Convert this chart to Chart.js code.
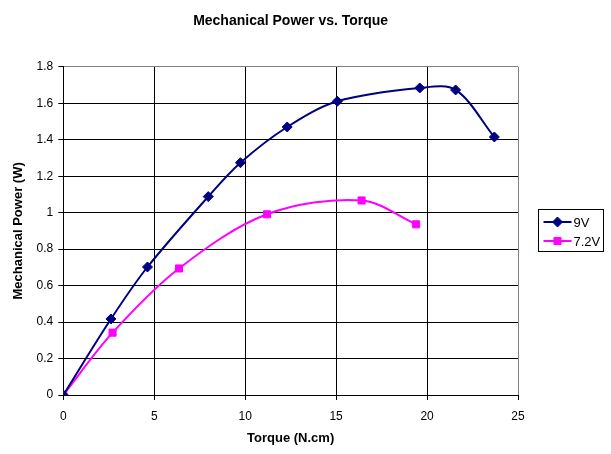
<!DOCTYPE html>
<html>
<head>
<meta charset="utf-8">
<script src="https://cdn.jsdelivr.net/npm/chart.js@4.4.1/dist/chart.umd.min.js"></script>
<style>
  html, body { margin: 0; padding: 0; background: #fff; }
  #wrap { width: 611px; height: 454px; }
</style>
</head>
<body>
<div id="wrap"><canvas id="c" width="611" height="454"></canvas></div>
<script>
const chartTitle = 'Mechanical Power vs. Torque';
const xTitle = 'Torque (N.cm)';
const yTitle = 'Mechanical Power (W)';
const seriesNames = ['9V', '7.2V'];

const torque9V = [0, 2.62, 4.63, 7.97, 9.74, 12.31, 15.07, 19.6, 21.57, 23.7];
const power9V  = [0, 0.417, 0.702, 1.088, 1.274, 1.470, 1.611, 1.684, 1.673, 1.415];
const torque72V = [0, 2.71, 6.36, 11.2, 16.4, 19.4];
const power72V  = [0, 0.342, 0.694, 0.991, 1.067, 0.936];

const xTicks = [0, 5, 10, 15, 20, 25];
const yTicks = ['0', '0.2', '0.4', '0.6', '0.8', '1', '1.2', '1.4', '1.6', '1.8'];

const FONT = '"Liberation Sans", Arial, sans-serif';
Chart.defaults.font.family = FONT;
Chart.defaults.color = '#000';

const toPts = (xs, ys) => xs.map((x, i) => ({ x: x, y: ys[i] }));

const legendPlugin = {
  id: 'boxLegend',
  afterDraw(chart) {
    const ctx = chart.ctx;
    const area = chart.chartArea;
    const left = Math.round(area.right) + 20.5;
    const top = 209.5;
    const w = 65, h = 42;
    ctx.save();
    ctx.strokeStyle = '#000';
    ctx.lineWidth = 1;
    ctx.strokeRect(left, top, w, h);
    ctx.font = '13px ' + FONT;
    ctx.textBaseline = 'middle';
    chart.data.datasets.forEach((ds, i) => {
      const y = top + 12.5 + i * 19;
      ctx.strokeStyle = ds.borderColor;
      ctx.lineWidth = 2;
      ctx.beginPath();
      ctx.moveTo(left + 5, y);
      ctx.lineTo(left + 33, y);
      ctx.stroke();
      ctx.fillStyle = ds.pointBackgroundColor;
      ctx.strokeStyle = ds.pointBorderColor;
      ctx.lineWidth = 1;
      Chart.helpers.drawPoint(ctx, { pointStyle: ds.pointStyle, radius: ds.pointRadius, borderWidth: 1 }, left + 19, y);
      ctx.fillStyle = '#000';
      ctx.textAlign = 'left';
      ctx.fillText(ds.label, left + 35, y + 1);
    });
    ctx.restore();
  }
};

new Chart(document.getElementById('c'), {
  type: 'line',
  data: {
    datasets: [
      {
        label: seriesNames[0],
        data: toPts(torque9V, power9V),
        borderColor: '#000080',
        backgroundColor: '#000080',
        pointBackgroundColor: '#000080',
        pointBorderColor: '#000080',
        pointStyle: 'rectRot',
        pointRadius: 5,
        pointBorderWidth: 1,
        borderWidth: 2,
        tension: 0.33,
        fill: false
      },
      {
        label: seriesNames[1],
        data: toPts(torque72V, power72V),
        borderColor: '#FF00FF',
        backgroundColor: '#FF00FF',
        pointBackgroundColor: '#FF00FF',
        pointBorderColor: '#FF00FF',
        pointStyle: 'rect',
        pointRadius: 5,
        pointBorderWidth: 1,
        borderWidth: 2,
        tension: 0.33,
        fill: false
      }
    ]
  },
  options: {
    responsive: false,
    animation: false,
    events: [],
    layout: { padding: { left: 11, right: 93, top: 0, bottom: 8 } },
    plugins: {
      legend: { display: false },
      tooltip: { enabled: false },
      title: {
        display: true,
        fullSize: false,
        text: chartTitle,
        color: '#000',
        font: { size: 14, weight: 'bold', family: FONT },
        padding: { top: 13, bottom: 37 }
      }
    },
    scales: {
      x: {
        type: 'linear',
        min: 0, max: 25,
        afterBuildTicks: (s) => { s.ticks = xTicks.map(v => ({ value: v })); },
        ticks: { font: { size: 12 }, padding: 9, color: '#000', maxRotation: 0 },
        grid: {
          color: (c) => (c.tick && c.tick.value === 25 ? '#808080' : '#000'),
          lineWidth: 1,
          tickLength: 5,
          tickColor: '#000'
        },
        border: { display: true, color: '#000', width: 1 },
        title: { display: true, text: xTitle, color: '#000', font: { size: 13, weight: 'bold' }, padding: { top: -2, bottom: 0 } }
      },
      y: {
        type: 'linear',
        min: 0, max: 1.8,
        afterBuildTicks: (s) => { s.ticks = yTicks.map(t => ({ value: parseFloat(t) })); },
        ticks: {
          font: { size: 12 }, padding: 5, color: '#000',
          callback: (v, i) => yTicks[i]
        },
        grid: {
          color: (c) => (c.tick && Math.abs(c.tick.value - 1.8) < 1e-9 ? '#808080' : '#000'),
          lineWidth: 1,
          tickLength: 5,
          tickColor: '#000'
        },
        border: { display: true, color: '#000', width: 1 },
        title: { display: true, text: yTitle, color: '#000', font: { size: 13, weight: 'bold' }, padding: { top: 0, bottom: 5 } }
      }
    }
  },
  plugins: [legendPlugin]
});
</script>
</body>
</html>
